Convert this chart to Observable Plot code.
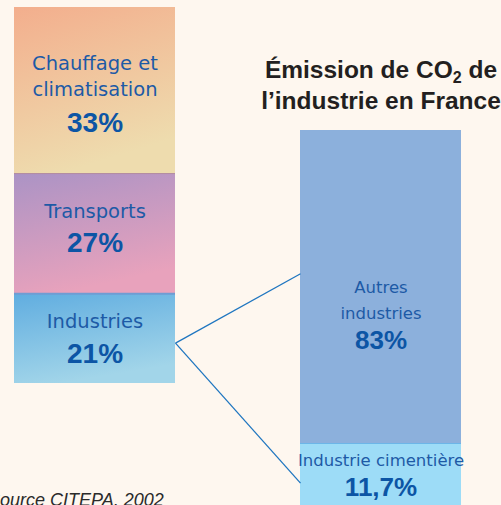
<!DOCTYPE html>
<html>
<head>
<meta charset="utf-8">
<script src="https://cdn.jsdelivr.net/npm/d3@7"></script>
<script src="https://cdn.jsdelivr.net/npm/@observablehq/plot@0.6"></script>
<style>
  html, body { margin: 0; padding: 0; background: #fef7ef; }
  #chart { position: relative; width: 501px; height: 505px; overflow: hidden; background: #fef7ef; }
  #chart svg { position: absolute; left: 0; top: 0; }
  #title { position: absolute; left: 231px; top: 56px; width: 300px; text-align: center;
           font: bold 24.5px "Liberation Sans", Arial, sans-serif; line-height: 28px; color: #231f20; }
  #title .sub { font-size: 16px; position: relative; top: 5px; }
  #source { position: absolute; left: -12px; top: 491px; white-space: nowrap;
            font: italic 18px "Liberation Sans", Arial, sans-serif; line-height: 18px; color: #2b2b2b; }
</style>
</head>
<body>
<div id="chart">
  <div id="title">Émission de CO<span class="sub">2</span> de<br>l’industrie en France</div>
  <div id="source">Source CITEPA, 2002</div>
</div>
<script>
// ---- data ----
const sectorNames = ["Chauffage et\nclimatisation", "Transports", "Industries"];
const sectorShares = [33, 27, 21];
const industryNames = ["Autres\nindustries", "Industrie cimentière"];
const industryShares = [83, 11.7];
const groups = ["Secteurs", "Industrie"];
// connector anchors (in each bar's percent units)
const connectorFrom = 71.5;
const connectorTo = [38, 93.5];

// ---- layout / style (not data) ----
const leftGradients = [
  ["#f3ae8d", "#eedcae"],
  ["#ab93c5", "#e8a2bc"],
  ["#60ade0", "#a2d5e9"]
];
const rightFills = ["#8cb0dc", "#9ddcf7"];
const leftLabelDy = [[-21, 27], [-25, 9], [-19, 15]];
const rightLabelDy = [[11, 54], [-8, 22]];
const nameColor = "#1d5aa6";
const pctColor = "#0c55a5";

const fmt = v => String(v).replace(".", ",") + "%";
function stack(names, values, group) {
  let c = 0;
  return names.map((name, i) => {
    const r = {group, name, value: values[i], y1: c, y2: c + values[i]};
    c += values[i];
    return r;
  });
}
const left = stack(sectorNames, sectorShares, groups[0]);
const right = stack(industryNames, industryShares, groups[1]);

const xOpts = {domain: groups, range: [14, 461], paddingInner: 0.4371, paddingOuter: 0, round: false, axis: null};
const common = {width: 501, height: 505, marginTop: 0, marginRight: 0, marginBottom: 0, marginLeft: 0,
  style: {background: "transparent", overflow: "visible"}};

const labelMarks = (d, dy, nameSize, pctSize) => [
  Plot.text([d], {x: "group", y: r => (r.y1 + r.y2) / 2, text: "name", dy: dy[0],
    fontSize: nameSize, fontFamily: "DejaVu Sans", fill: nameColor, lineHeight: 26 / nameSize}),
  Plot.text([d], {x: "group", y: r => (r.y1 + r.y2) / 2, text: r => fmt(r.value), dy: dy[1],
    fontSize: pctSize, fontWeight: "bold", fontFamily: "Liberation Sans", fill: pctColor})
];

const plotL = Plot.plot({
  ...common,
  x: xOpts,
  y: {type: "pow", exponent: 0.91, domain: [0, d3.sum(sectorShares)], range: [7, 383], axis: null},
  marks: [
    ...left.map((d, i) => Plot.rectY([d], {x: "group", y1: "y1", y2: "y2", fill: `url(#lgrad${i})`})),
    Plot.tickY([left[1]], {x: "group", y: "y1", stroke: "#b48d9f", strokeWidth: 1}),
    Plot.tickY([left[2]], {x: "group", y: "y1", stroke: "#6f9dd3", strokeWidth: 2}),
    ...left.flatMap((d, i) => labelMarks(d, leftLabelDy[i], 19.5, 28))
  ]
});
// gradients
const ns = "http://www.w3.org/2000/svg";
const defs = document.createElementNS(ns, "defs");
leftGradients.forEach(([c0, c1], i) => {
  const g = document.createElementNS(ns, "linearGradient");
  g.setAttribute("id", `lgrad${i}`);
  g.setAttribute("x1", "0"); g.setAttribute("y1", "0");
  g.setAttribute("x2", "0.3"); g.setAttribute("y2", "1");
  [[0, c0], [1, c1]].forEach(([o, c]) => {
    const s = document.createElementNS(ns, "stop");
    s.setAttribute("offset", o); s.setAttribute("stop-color", c);
    g.appendChild(s);
  });
  defs.appendChild(g);
});
plotL.insertBefore(defs, plotL.firstChild);

const plotR = Plot.plot({
  ...common,
  x: xOpts,
  y: {domain: [0, industryShares[0]], range: [130, 443], axis: null},
  marks: [
    Plot.rectY([right[0]], {x: "group", y1: "y1", y2: "y2", fill: rightFills[0]}),
    Plot.rectY([right[1]], {x: "group", y1: "y1", y2: "y2", fill: rightFills[1], insetBottom: -24}),
    Plot.tickY([right[1]], {x: "group", y: "y1", stroke: "#6cb6e8", strokeWidth: 1.2}),
    ...right.flatMap((d, i) => labelMarks(d, rightLabelDy[i], 16.5, 26))
  ]
});

const xs = plotL.scale("x");
const fromX = xs.apply(groups[0]) + xs.bandwidth;
const fromY = plotL.scale("y").apply(connectorFrom);
const toX = plotR.scale("x").apply(groups[1]);
const links = connectorTo.map(v => ({x1: fromX, y1: fromY, x2: toX, y2: plotR.scale("y").apply(v)}));

const plotLinks = Plot.plot({
  ...common,
  x: {type: "identity", axis: null},
  y: {type: "identity", axis: null},
  marks: [Plot.link(links, {x1: "x1", y1: "y1", x2: "x2", y2: "y2", stroke: "#1f76c0", strokeWidth: 1.3})]
});

const chart = document.getElementById("chart");
const title = document.getElementById("title");
chart.insertBefore(plotL, title);
chart.insertBefore(plotR, title);
chart.insertBefore(plotLinks, title);
</script>
</body>
</html>
